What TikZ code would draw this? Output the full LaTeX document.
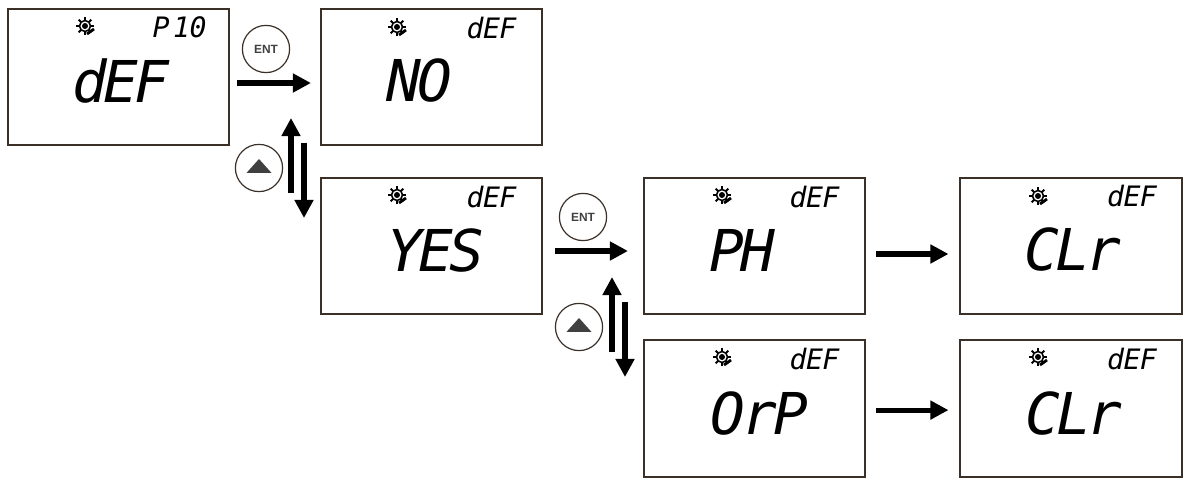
\documentclass[tikz,border=0pt]{standalone}
\usepackage{fontspec}
\usepackage{tikz}
\usetikzlibrary{arrows.meta}
\newfontfamily\segfont{DejaVu Sans Mono}[ItalicFont={DejaVu Sans Mono Oblique},LetterSpace=-6]
\newfontfamily\segsmall{DejaVu Sans Mono}[ItalicFont={DejaVu Sans Mono Oblique},LetterSpace=-2]
\setsansfont{Liberation Sans}
\definecolor{framecol}{HTML}{3A3028}
\definecolor{keycol}{HTML}{404040}
\tikzset{
  lcdbox/.style={draw=framecol, line width=0.05cm, minimum width=5.525cm, minimum height=3.42cm, inner sep=0pt},
  bigtext/.style={font=\fontsize{41}{41}\segfont\itshape, inner sep=0pt},
  smalltext/.style={font=\fontsize{20}{20}\segsmall\itshape, inner sep=0pt},
  keybtn/.style={circle, draw=framecol, line width=0.03cm, minimum size=1.18cm, inner sep=0pt, font=\fontsize{8.5}{8.5}\sffamily\bfseries, text=keycol},
  flowarrow/.style={line width=0.13cm, -{Triangle[length=0.45cm, width=0.45cm]}},
  gear/.pic={
    \draw[line width=0.04cm] (0,0) circle (5.5);
    \fill (0,0) circle (3);
    \foreach \a in {0,45,...,315} {
      \draw[line width=0.05cm] (\a:5.5) -- (\a:9);
    }
    \draw[line width=0.07cm] (2,8) -- (9,3);
  }
}
\begin{document}
\begin{tikzpicture}[x=0.025cm, y=-0.025cm]
  \useasboundingbox (0,0) rectangle (1183,478);

  % Displays
  \node[lcdbox] (def) at (118.5,77) {};
  \node[lcdbox] (no) at (431.5,77) {};
  \node[lcdbox] (yes) at (431.5,246) {};
  \node[lcdbox] (ph) at (754.5,246) {};
  \node[lcdbox] (orp) at (754.5,408.5) {};
  \node[lcdbox] (clra) at (1071,246) {};
  \node[lcdbox] (clrb) at (1071,408.5) {};

  % Big readouts
  \node[bigtext] (deftxt) at (121,81) {dEF};
  \node[bigtext] (notxt) at (419,81) {NO};
  \node[bigtext] (yestxt) at (436,251) {YES};
  \node[bigtext] (phtxt) at (742,250) {PH};
  \node[bigtext] (orptxt) at (759.5,414) {OrP};
  \node[bigtext] (clratxt) at (1073,250) {CLr};
  \node[bigtext] (clrbtxt) at (1074,414) {CLr};

  % Small readouts
  \node[smalltext] (ptxt) at (179.5,27) {P \kern-.45em 10};
  \node[smalltext] (nosub) at (491.5,28) {dEF};
  \node[smalltext] (yessub) at (491.5,197) {dEF};
  \node[smalltext] (phsub) at (814.5,197) {dEF};
  \node[smalltext] (orpsub) at (814.5,359) {dEF};
  \node[smalltext] (clrasub) at (1132,196) {dEF};
  \node[smalltext] (clrbsub) at (1132,359) {dEF};

  % Icons
  \foreach \px/\py in {85/26, 397/27, 397/195, 722/195, 722/357, 1038/196, 1038/357} {
    \pic at (\px,\py) {gear};
  }

  % Keys
  \node[keybtn] (enta) at (266,49) {ENT};
  \node[keybtn] (entb) at (583,217) {ENT};
  \node[keybtn] (upa) at (259,168) {};
  \node[keybtn] (upb) at (579,327) {};
  \fill[keycol] ([xshift=-0.31cm, yshift=-0.12cm]upa.center) -- ([xshift=0.31cm, yshift=-0.12cm]upa.center) -- ([yshift=0.225cm]upa.center) -- cycle;
  \fill[keycol] ([xshift=-0.31cm, yshift=-0.12cm]upb.center) -- ([xshift=0.31cm, yshift=-0.12cm]upb.center) -- ([yshift=0.225cm]upb.center) -- cycle;

  % Free ends of the up and down arrows
  \coordinate (upaS) at (291,193);
  \coordinate (upaE) at (291,118);
  \coordinate (dnaS) at (304,143);
  \coordinate (dnaE) at (304,218);
  \coordinate (upbS) at (612,352);
  \coordinate (upbE) at (612,277);
  \coordinate (dnbS) at (625,302);
  \coordinate (dnbE) at (625,377);

  \draw[flowarrow, shorten <=0.175cm, shorten >=0.225cm] ([yshift=-0.15cm]def.east) -- ([yshift=-0.15cm]no.west);
  \draw[flowarrow, shorten <=0.3cm, shorten >=0.375cm] ([yshift=-0.125cm]yes.east) -- ([yshift=-0.125cm]ph.west);
  \draw[flowarrow, shorten <=0.25cm, shorten >=0.275cm] ([yshift=-0.2cm]ph.east) -- ([yshift=-0.2cm]clra.west);
  \draw[flowarrow, shorten <=0.25cm, shorten >=0.275cm] ([yshift=-0.04cm]orp.east) -- ([yshift=-0.04cm]clrb.west);
  \draw[flowarrow] (upaS) -- (upaE);
  \draw[flowarrow] (dnaS) -- (dnaE);
  \draw[flowarrow] (upbS) -- (upbE);
  \draw[flowarrow] (dnbS) -- (dnbE);
\end{tikzpicture}
\end{document}
